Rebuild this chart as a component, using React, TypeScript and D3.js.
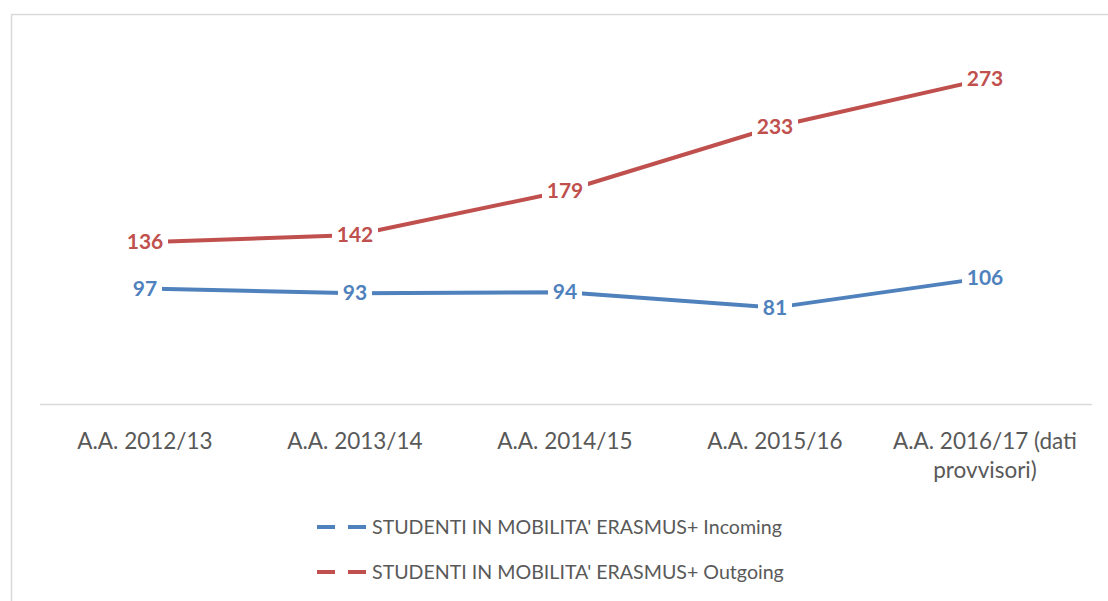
import { useEffect, useRef } from 'react';
import * as d3 from 'd3';

const categories = ['A.A. 2012/13', 'A.A. 2013/14', 'A.A. 2014/15', 'A.A. 2015/16', 'A.A. 2016/17 (dati provvisori)'];
const incoming = [97, 93, 94, 81, 106];
const outgoing = [136, 142, 179, 233, 273];
const seriesNames = ["STUDENTI IN MOBILITA' ERASMUS+ Incoming", "STUDENTI IN MOBILITA' ERASMUS+ Outgoing"];
const seriesColors = ['#4F81BD', '#C0504D'];

function App() {
    const ref = useRef<SVGSVGElement>(null);

    useEffect(() => {
        const svg = d3.select(ref.current);
        svg.selectAll('*').remove();

        const width = 1108;
        const height = 601;
        const font = 'Lato, "Open Sans", sans-serif';

        // chart frame (only top and left visible in the crop)
        svg.append('path')
            .attr('d', `M11.5,${height} L11.5,14.5 L${width},14.5`)
            .attr('fill', 'none')
            .attr('stroke', '#d9d9d9')
            .attr('stroke-width', 1.5);

        const x = d3.scaleBand().domain(categories).range([40, 1090]);
        const y = d3.scaleLinear().domain([0, 300]).range([404, 47]);

        // category axis
        svg.append('line')
            .attr('x1', 40).attr('x2', 1092)
            .attr('y1', 404.5).attr('y2', 404.5)
            .attr('stroke', '#d9d9d9')
            .attr('stroke-width', 1.5);

        const catLabels = svg.append('g')
            .attr('font-family', font)
            .attr('font-size', 22.5)
            .attr('fill', '#595959')
            .attr('text-anchor', 'middle');

        categories.forEach(c => {
            const cx = x(c)! + x.bandwidth() / 2;
            const t = catLabels.append('text').attr('x', cx).attr('y', 449);
            if (c.includes('(dati')) {
                t.append('tspan').attr('x', cx).attr('dy', 0).text('A.A. 2016/17 (dati');
                t.append('tspan').attr('x', cx).attr('dy', 29).text('provvisori)');
            } else {
                t.text(c);
            }
        });

        const line = d3.line<number>()
            .x((d, i) => x(categories[i])! + x.bandwidth() / 2)
            .y(d => y(d));

        [incoming, outgoing].forEach((data, si) => {
            const color = seriesColors[si];
            svg.append('path')
                .datum(data)
                .attr('d', line)
                .attr('fill', 'none')
                .attr('stroke', color)
                .attr('stroke-width', 4)
                .attr('stroke-linejoin', 'round');

            const lbl = svg.append('g')
                .attr('font-family', font)
                .attr('font-weight', 'bold')
                .attr('font-size', 21)
                .attr('fill', color)
                .attr('text-anchor', 'middle');

            data.forEach((d, i) => {
                const cx = x(categories[i])! + x.bandwidth() / 2;
                const w = String(d).length * 12 + 10;
                lbl.append('rect')
                    .attr('x', cx - w / 2)
                    .attr('y', y(d) - 13)
                    .attr('width', w)
                    .attr('height', 26)
                    .attr('fill', '#ffffff');
                lbl.append('text')
                    .attr('x', cx)
                    .attr('y', y(d) + 7)
                    .text(d);
            });
        });

        // legend
        const legend = svg.append('g')
            .attr('font-family', font)
            .attr('font-size', 19.6)
            .attr('fill', '#595959');

        seriesNames.forEach((name, i) => {
            const ly = 527 + i * 45;
            legend.append('line')
                .attr('x1', 317).attr('x2', 367)
                .attr('y1', ly).attr('y2', ly)
                .attr('stroke', seriesColors[i])
                .attr('stroke-width', 4)
                .attr('stroke-dasharray', '18,13');
            legend.append('text')
                .attr('x', 372)
                .attr('y', ly + 7)
                .text(name);
        });
    }, []);

    return (
        <svg ref={ref} width={1108} height={601}
            style={{ position: 'absolute', left: 0, top: 0, background: '#fff' }} />
    );
}

export default App;
